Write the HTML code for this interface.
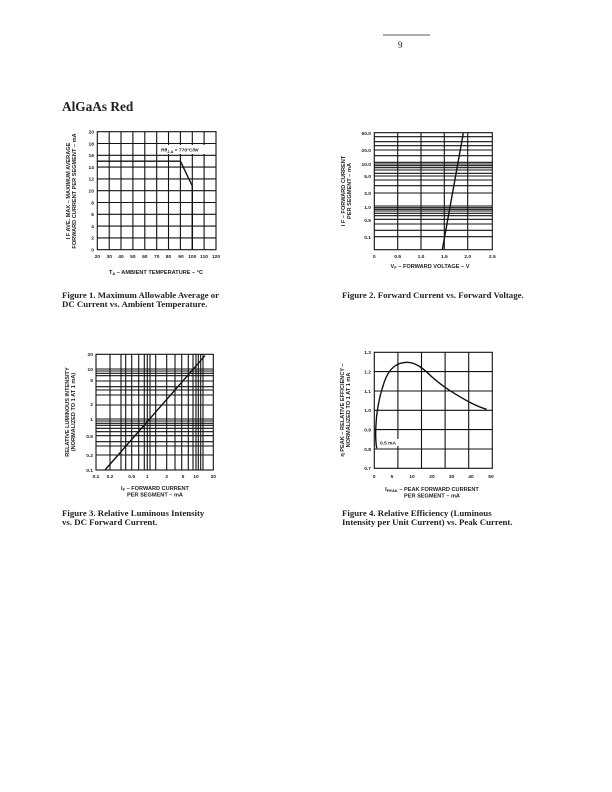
<!DOCTYPE html>
<html><head><meta charset="utf-8"><style>
html,body{margin:0;padding:0;background:#fff;}
svg{display:block;}
.t{font-family:"Liberation Sans",sans-serif;font-weight:bold;font-size:4.9px;fill:#222;}
.a{font-family:"Liberation Sans",sans-serif;font-weight:bold;font-size:5.6px;fill:#222;}
.c{font-family:"Liberation Serif",serif;font-weight:bold;font-size:8.8px;fill:#222;}
.g{stroke:#111;stroke-width:1.1;fill:none;}
</style></head><body>
<svg width="612" height="792" viewBox="0 0 612 792" xmlns="http://www.w3.org/2000/svg">
<line x1="383" y1="35" x2="430" y2="35" stroke="#222" stroke-width="0.8"/>
<text x="398" y="48" font-family="Liberation Serif,serif" font-size="9" fill="#222">9</text>
<text x="62" y="111" font-family="Liberation Serif,serif" font-weight="bold" font-size="13.3" fill="#222">AlGaAs Red</text>

<!-- Chart 1 -->
<g class="g">
<rect x="97.3" y="131.7" width="118.7" height="118"/>
<line x1="109.2" y1="131.7" x2="109.2" y2="249.7"/><line x1="121" y1="131.7" x2="121" y2="249.7"/><line x1="132.9" y1="131.7" x2="132.9" y2="249.7"/><line x1="144.8" y1="131.7" x2="144.8" y2="249.7"/><line x1="156.7" y1="131.7" x2="156.7" y2="249.7"/><line x1="168.5" y1="131.7" x2="168.5" y2="249.7"/><line x1="180.4" y1="131.7" x2="180.4" y2="249.7"/><line x1="192.3" y1="131.7" x2="192.3" y2="249.7"/><line x1="204.1" y1="131.7" x2="204.1" y2="249.7"/>
<line x1="97.3" y1="143.5" x2="216" y2="143.5"/><line x1="97.3" y1="155.3" x2="216" y2="155.3"/><line x1="97.3" y1="167.1" x2="216" y2="167.1"/><line x1="97.3" y1="178.9" x2="216" y2="178.9"/><line x1="97.3" y1="190.7" x2="216" y2="190.7"/><line x1="97.3" y1="202.5" x2="216" y2="202.5"/><line x1="97.3" y1="214.3" x2="216" y2="214.3"/><line x1="97.3" y1="226.1" x2="216" y2="226.1"/><line x1="97.3" y1="237.9" x2="216" y2="237.9"/>
<polyline points="97.3,161.2 180.4,161.2 192.3,186 192.3,249.7" stroke-width="1.4"/>
</g>
<rect x="160" y="145" width="47" height="9" fill="#fff"/>
<text class="t" x="161" y="151.5">Rθ<tspan font-size="3.8" dy="1.5">J-A</tspan><tspan dy="-1.5"> = 770°C/W</tspan></text>
<g class="t" text-anchor="end">
<text x="94" y="133.5">20</text><text x="94" y="145.3">18</text><text x="94" y="157.1">16</text><text x="94" y="168.9">14</text><text x="94" y="180.7">12</text><text x="94" y="192.5">10</text><text x="94" y="204.3">8</text><text x="94" y="216.1">6</text><text x="94" y="227.9">4</text><text x="94" y="239.7">2</text><text x="94" y="251.5">0</text>
</g>
<g class="t" text-anchor="middle">
<text x="97.3" y="258">20</text><text x="109.2" y="258">30</text><text x="121" y="258">40</text><text x="132.9" y="258">50</text><text x="144.8" y="258">60</text><text x="156.7" y="258">70</text><text x="168.5" y="258">80</text><text x="181" y="258">90</text><text x="192.3" y="258">100</text><text x="204.1" y="258">110</text><text x="216" y="258">120</text>
</g>
<text class="a" x="156" y="274" text-anchor="middle">T<tspan font-size="4" dy="1">A</tspan><tspan dy="-1"> – AMBIENT TEMPERATURE – °C</tspan></text>
<g class="a" text-anchor="middle" transform="translate(70,191) rotate(-90)">
<text x="0" y="0">I F AVE. MAX – MAXIMUM AVERAGE</text>
<text x="0" y="6">FORWARD CURRENT PER SEGMENT – mA</text>
</g>
<text class="c" x="62" y="298">Figure 1. Maximum Allowable Average or</text>
<text class="c" x="62" y="307">DC Current vs. Ambient Temperature.</text>

<!-- Chart 2 -->
<g class="g">
<rect x="374.3" y="132.7" width="118" height="117"/>
<line x1="397.7" y1="132.7" x2="397.7" y2="249.7"/><line x1="421" y1="132.7" x2="421" y2="249.7"/><line x1="444.3" y1="132.7" x2="444.3" y2="249.7"/><line x1="467.7" y1="132.7" x2="467.7" y2="249.7"/>
<line x1="374.3" y1="136.7" x2="492.3" y2="136.7"/><line x1="374.3" y1="141.7" x2="492.3" y2="141.7"/><line x1="374.3" y1="145.7" x2="492.3" y2="145.7"/><line x1="374.3" y1="150" x2="492.3" y2="150"/><line x1="374.3" y1="155.7" x2="492.3" y2="155.7"/><line x1="374.3" y1="162.3" x2="492.3" y2="162.3"/><line x1="374.3" y1="164" x2="492.3" y2="164"/><line x1="374.3" y1="165.7" x2="492.3" y2="165.7"/><line x1="374.3" y1="167.7" x2="492.3" y2="167.7"/><line x1="374.3" y1="170" x2="492.3" y2="170"/><line x1="374.3" y1="173.3" x2="492.3" y2="173.3"/><line x1="374.3" y1="176" x2="492.3" y2="176"/><line x1="374.3" y1="180" x2="492.3" y2="180"/><line x1="374.3" y1="185.7" x2="492.3" y2="185.7"/><line x1="374.3" y1="193" x2="492.3" y2="193"/><line x1="374.3" y1="206" x2="492.3" y2="206"/><line x1="374.3" y1="207.7" x2="492.3" y2="207.7"/><line x1="374.3" y1="209.3" x2="492.3" y2="209.3"/><line x1="374.3" y1="211" x2="492.3" y2="211"/><line x1="374.3" y1="213.3" x2="492.3" y2="213.3"/><line x1="374.3" y1="215.7" x2="492.3" y2="215.7"/><line x1="374.3" y1="219.3" x2="492.3" y2="219.3"/><line x1="374.3" y1="224" x2="492.3" y2="224"/><line x1="374.3" y1="230.3" x2="492.3" y2="230.3"/><line x1="374.3" y1="236.7" x2="492.3" y2="236.7"/>
<line x1="442.3" y1="249.7" x2="463.3" y2="133.3" stroke-width="1.4"/>
</g>
<g class="t" text-anchor="end">
<text x="371" y="135">50.0</text><text x="371" y="152">20.0</text><text x="371" y="166">10.0</text><text x="371" y="178">5.0</text><text x="371" y="195">2.0</text><text x="371" y="209">1.0</text><text x="371" y="222">0.5</text><text x="371" y="239">0.1</text>
</g>
<g class="t" text-anchor="middle">
<text x="374.3" y="258">0</text><text x="397.7" y="258">0.5</text><text x="421" y="258">1.0</text><text x="444.3" y="258">1.5</text><text x="467.7" y="258">2.0</text><text x="492.3" y="258">2.5</text>
</g>
<text class="a" x="430" y="268" text-anchor="middle">V<tspan font-size="4" dy="1">F</tspan><tspan dy="-1"> – FORWARD VOLTAGE – V</tspan></text>
<g class="a" text-anchor="middle" transform="translate(345,191) rotate(-90)">
<text x="0" y="0">I F – FORWARD CURRENT</text>
<text x="0" y="6">PER SEGMENT – mA</text>
</g>
<text class="c" x="342" y="298">Figure 2. Forward Current vs. Forward Voltage.</text>

<!-- Chart 3 -->
<g class="g">
<rect x="96" y="354.3" width="117.3" height="115.7"/>
<line x1="110" y1="354.3" x2="110" y2="470"/><line x1="121" y1="354.3" x2="121" y2="470"/><line x1="125.7" y1="354.3" x2="125.7" y2="470"/><line x1="131.7" y1="354.3" x2="131.7" y2="470"/><line x1="138.7" y1="354.3" x2="138.7" y2="470"/><line x1="144.3" y1="354.3" x2="144.3" y2="470"/><line x1="147.3" y1="354.3" x2="147.3" y2="470"/><line x1="150" y1="354.3" x2="150" y2="470"/><line x1="155.7" y1="354.3" x2="155.7" y2="470"/><line x1="166.7" y1="354.3" x2="166.7" y2="470"/><line x1="175" y1="354.3" x2="175" y2="470"/><line x1="181.7" y1="354.3" x2="181.7" y2="470"/><line x1="188.3" y1="354.3" x2="188.3" y2="470"/><line x1="193" y1="354.3" x2="193" y2="470"/><line x1="196" y1="354.3" x2="196" y2="470"/><line x1="198.3" y1="354.3" x2="198.3" y2="470"/><line x1="200.7" y1="354.3" x2="200.7" y2="470"/><line x1="203" y1="354.3" x2="203" y2="470"/>
<line x1="96" y1="369" x2="213.3" y2="369"/><line x1="96" y1="371" x2="213.3" y2="371"/><line x1="96" y1="373.3" x2="213.3" y2="373.3"/><line x1="96" y1="375.7" x2="213.3" y2="375.7"/><line x1="96" y1="381" x2="213.3" y2="381"/><line x1="96" y1="386.7" x2="213.3" y2="386.7"/><line x1="96" y1="390" x2="213.3" y2="390"/><line x1="96" y1="395" x2="213.3" y2="395"/><line x1="96" y1="405" x2="213.3" y2="405"/><line x1="96" y1="419" x2="213.3" y2="419"/><line x1="96" y1="421" x2="213.3" y2="421"/><line x1="96" y1="423.3" x2="213.3" y2="423.3"/><line x1="96" y1="425.3" x2="213.3" y2="425.3"/><line x1="96" y1="428.3" x2="213.3" y2="428.3"/><line x1="96" y1="431.7" x2="213.3" y2="431.7"/><line x1="96" y1="435.7" x2="213.3" y2="435.7"/><line x1="96" y1="441.7" x2="213.3" y2="441.7"/><line x1="96" y1="446" x2="213.3" y2="446"/><line x1="96" y1="455" x2="213.3" y2="455"/>
<line x1="105" y1="470" x2="205" y2="355.7" stroke-width="1.4"/>
</g>
<g class="t" text-anchor="end">
<text x="93" y="356">20</text><text x="93" y="371">10</text><text x="93" y="382">5</text><text x="93" y="406">2</text><text x="93" y="421">1</text><text x="93" y="438">0.5</text><text x="93" y="457">0.2</text><text x="93" y="472">0.1</text>
</g>
<g class="t" text-anchor="middle">
<text x="96" y="478">0.1</text><text x="110" y="478">0.2</text><text x="131.7" y="478">0.5</text><text x="147.3" y="478">1</text><text x="166.7" y="478">2</text><text x="183" y="478">5</text><text x="196" y="478">10</text><text x="213.3" y="478">20</text>
</g>
<g class="a" text-anchor="middle">
<text x="155" y="490">I<tspan font-size="4" dy="1">F</tspan><tspan dy="-1"> – FORWARD CURRENT</tspan></text>
<text x="155" y="496.5">PER SEGMENT – mA</text>
</g>
<g class="a" text-anchor="middle" transform="translate(69,412) rotate(-90)">
<text x="0" y="0">RELATIVE LUMINOUS INTENSITY</text>
<text x="0" y="6">(NORMALIZED TO 1 AT 1 mA)</text>
</g>
<text class="c" x="62" y="516">Figure 3. Relative Luminous Intensity</text>
<text class="c" x="62" y="525">vs. DC Forward Current.</text>

<!-- Chart 4 -->
<g class="g">
<rect x="374.3" y="352.3" width="118" height="116"/>
<line x1="397.9" y1="352.3" x2="397.9" y2="468.3"/><line x1="421.5" y1="352.3" x2="421.5" y2="468.3"/><line x1="445.1" y1="352.3" x2="445.1" y2="468.3"/><line x1="468.7" y1="352.3" x2="468.7" y2="468.3"/>
<line x1="374.3" y1="371.6" x2="492.3" y2="371.6"/><line x1="374.3" y1="391" x2="492.3" y2="391"/><line x1="374.3" y1="410.3" x2="492.3" y2="410.3"/><line x1="374.3" y1="429.6" x2="492.3" y2="429.6"/><line x1="374.3" y1="449" x2="492.3" y2="449"/>
<path d="M376.7,448.3 C375.3,440 375.5,433 375.9,426 C376.5,412 379,398 383.3,385 C386,376 389,371 393,367.5 C397,364 402,362.3 407,362.3 C416,362.3 424,369 431.7,376.7 C440,384 447,389 453.3,392.7 C461,397.5 467,401 471.7,403.3 C477,406 482,408 486.7,409.3" stroke-width="1.4"/>
</g>
<rect x="379" y="439" width="21" height="7" fill="#fff"/>
<text class="t" x="380" y="444.5">0.5 mA</text>
<g class="t" text-anchor="end">
<text x="371" y="354">1.3</text><text x="371" y="373.5">1.2</text><text x="371" y="393">1.1</text><text x="371" y="412">1.0</text><text x="371" y="431.5">0.9</text><text x="371" y="451">0.8</text><text x="371" y="470">0.7</text>
</g>
<g class="t" text-anchor="middle">
<text x="374.3" y="478">0</text><text x="392" y="478">5</text><text x="412" y="478">10</text><text x="432" y="478">20</text><text x="451.5" y="478">30</text><text x="471" y="478">40</text><text x="491" y="478">50</text>
</g>
<g class="a" text-anchor="middle">
<text x="432" y="491">I<tspan font-size="4" dy="1">PEAK</tspan><tspan dy="-1"> – PEAK FORWARD CURRENT</tspan></text>
<text x="432" y="497.5">PER SEGMENT – mA</text>
</g>
<g class="a" text-anchor="middle" transform="translate(344,410) rotate(-90)">
<text x="0" y="0">η PEAK – RELATIVE EFFICIENCY –</text>
<text x="0" y="6">NORMALIZED TO 1 AT 1 mA</text>
</g>
<text class="c" x="342" y="516">Figure 4. Relative Efficiency (Luminous</text>
<text class="c" x="342" y="525">Intensity per Unit Current) vs. Peak Current.</text>
</svg>
</body></html>
